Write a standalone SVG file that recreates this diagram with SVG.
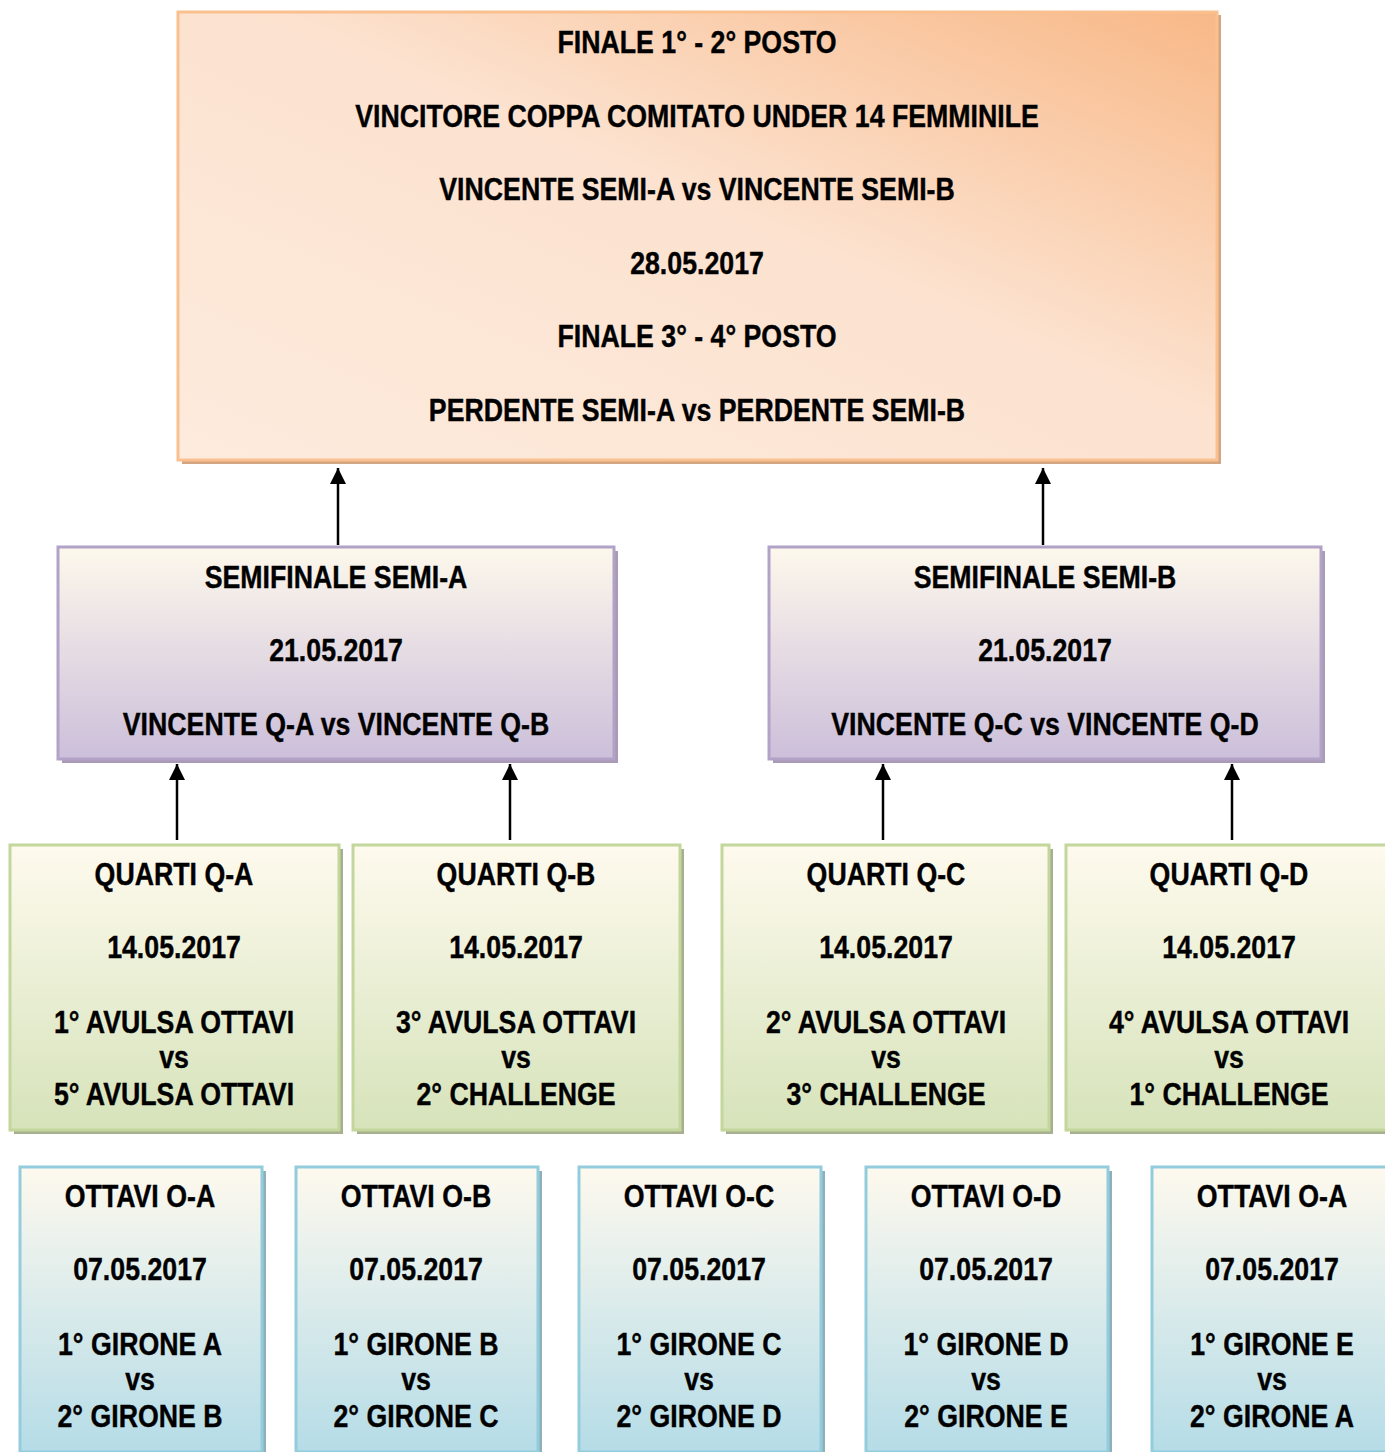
<svg xmlns="http://www.w3.org/2000/svg" width="1385" height="1452" viewBox="0 0 1385 1452">
<defs>
<linearGradient id="gTop" x1="1" y1="0" x2="0" y2="1">
<stop offset="0" stop-color="#F8B887"/>
<stop offset="0.45" stop-color="#FCE2CF"/>
<stop offset="1" stop-color="#FDEBDD"/>
</linearGradient>
<linearGradient id="gSemi" x1="0" y1="0" x2="0" y2="1">
<stop offset="0" stop-color="#FDF8EC"/>
<stop offset="1" stop-color="#CCBFDA"/>
</linearGradient>
<linearGradient id="gQ" x1="0" y1="0" x2="0" y2="1">
<stop offset="0" stop-color="#FEFAEE"/>
<stop offset="1" stop-color="#D6E3BA"/>
</linearGradient>
<linearGradient id="gO" x1="0" y1="0" x2="0" y2="1">
<stop offset="0" stop-color="#FEF9EE"/>
<stop offset="1" stop-color="#B5DCE7"/>
</linearGradient>
<marker id="ah" markerUnits="userSpaceOnUse" markerWidth="16" markerHeight="16" viewBox="0 0 16 16" refX="16" refY="8" orient="auto">
<path d="M0,0 L16,8 L0,16 Z" fill="#000"/>
</marker>
</defs>
<style>
text{font-family:"Liberation Sans",Arial,sans-serif;font-weight:bold;font-size:32px;fill:#000;text-anchor:middle;stroke:#000;stroke-width:0.4}
.top rect.b{fill:url(#gTop);stroke:#FAC090;stroke-width:3}
.top rect.s{fill:#D3A581}
.semi rect.b{fill:url(#gSemi);stroke:#B2A2C7;stroke-width:3}
.semi rect.s{fill:#A99BB5}
.q rect.b{fill:url(#gQ);stroke:#C3D69B;stroke-width:3}
.q rect.s{fill:#A6AF8E}
.o rect.b{fill:url(#gO);stroke:#93CDDD;stroke-width:3}
.o rect.s{fill:#8EB0BA}
.conn line{stroke:#000;stroke-width:2.5;marker-end:url(#ah)}
</style>
<rect width="1385" height="1452" fill="#fff"/>

<g id="finale" class="top">
<rect class="s" x="182" y="15" width="1039" height="449"/>
<rect class="b" x="178" y="12" width="1039" height="448"/>
<text transform="matrix(0.835 0 0 1 697 0)" y="53">FINALE 1° - 2° POSTO</text>
<text transform="matrix(0.835 0 0 1 697 0)" y="127">VINCITORE COPPA COMITATO UNDER 14 FEMMINILE</text>
<text transform="matrix(0.835 0 0 1 697 0)" y="200">VINCENTE SEMI-A vs VINCENTE SEMI-B</text>
<text transform="matrix(0.835 0 0 1 697 0)" y="274">28.05.2017</text>
<text transform="matrix(0.835 0 0 1 697 0)" y="347">FINALE 3° - 4° POSTO</text>
<text transform="matrix(0.835 0 0 1 697 0)" y="421">PERDENTE SEMI-A vs PERDENTE SEMI-B</text>
</g>

<g id="semi-a" class="semi">
<rect class="s" x="62" y="551" width="556" height="212"/>
<rect class="b" x="58" y="547" width="556" height="212"/>
<text transform="matrix(0.835 0 0 1 336 0)" y="588">SEMIFINALE SEMI-A</text>
<text transform="matrix(0.835 0 0 1 336 0)" y="661">21.05.2017</text>
<text transform="matrix(0.835 0 0 1 336 0)" y="735">VINCENTE Q-A vs VINCENTE Q-B</text>
</g>
<g id="semi-b" class="semi">
<rect class="s" x="773" y="551" width="552" height="212"/>
<rect class="b" x="769" y="547" width="552" height="212"/>
<text transform="matrix(0.835 0 0 1 1045 0)" y="588">SEMIFINALE SEMI-B</text>
<text transform="matrix(0.835 0 0 1 1045 0)" y="661">21.05.2017</text>
<text transform="matrix(0.835 0 0 1 1045 0)" y="735">VINCENTE Q-C vs VINCENTE Q-D</text>
</g>

<g id="q-a" class="q">
<rect class="s" x="14" y="849" width="329" height="285"/>
<rect class="b" x="10" y="845" width="329" height="285"/>
<text transform="matrix(0.835 0 0 1 174 0)" y="885">QUARTI Q-A</text>
<text transform="matrix(0.835 0 0 1 174 0)" y="958">14.05.2017</text>
<text transform="matrix(0.835 0 0 1 174 0)" y="1033">1° AVULSA OTTAVI</text>
<text transform="matrix(0.835 0 0 1 174 0)" y="1068">vs</text>
<text transform="matrix(0.835 0 0 1 174 0)" y="1105">5° AVULSA OTTAVI</text>
</g>
<g id="q-b" class="q">
<rect class="s" x="357" y="849" width="327" height="285"/>
<rect class="b" x="353" y="845" width="327" height="285"/>
<text transform="matrix(0.835 0 0 1 516 0)" y="885">QUARTI Q-B</text>
<text transform="matrix(0.835 0 0 1 516 0)" y="958">14.05.2017</text>
<text transform="matrix(0.835 0 0 1 516 0)" y="1033">3° AVULSA OTTAVI</text>
<text transform="matrix(0.835 0 0 1 516 0)" y="1068">vs</text>
<text transform="matrix(0.835 0 0 1 516 0)" y="1105">2° CHALLENGE</text>
</g>
<g id="q-c" class="q">
<rect class="s" x="726" y="849" width="327" height="285"/>
<rect class="b" x="722" y="845" width="327" height="285"/>
<text transform="matrix(0.835 0 0 1 886 0)" y="885">QUARTI Q-C</text>
<text transform="matrix(0.835 0 0 1 886 0)" y="958">14.05.2017</text>
<text transform="matrix(0.835 0 0 1 886 0)" y="1033">2° AVULSA OTTAVI</text>
<text transform="matrix(0.835 0 0 1 886 0)" y="1068">vs</text>
<text transform="matrix(0.835 0 0 1 886 0)" y="1105">3° CHALLENGE</text>
</g>
<g id="q-d" class="q">
<rect class="s" x="1070" y="849" width="329" height="285"/>
<rect class="b" x="1066" y="845" width="329" height="285"/>
<text transform="matrix(0.835 0 0 1 1229 0)" y="885">QUARTI Q-D</text>
<text transform="matrix(0.835 0 0 1 1229 0)" y="958">14.05.2017</text>
<text transform="matrix(0.835 0 0 1 1229 0)" y="1033">4° AVULSA OTTAVI</text>
<text transform="matrix(0.835 0 0 1 1229 0)" y="1068">vs</text>
<text transform="matrix(0.835 0 0 1 1229 0)" y="1105">1° CHALLENGE</text>
</g>

<g id="o-a" class="o">
<rect class="s" x="24" y="1171" width="242" height="285"/>
<rect class="b" x="20" y="1167" width="242" height="285"/>
<text transform="matrix(0.835 0 0 1 140 0)" y="1207">OTTAVI O-A</text>
<text transform="matrix(0.835 0 0 1 140 0)" y="1280">07.05.2017</text>
<text transform="matrix(0.835 0 0 1 140 0)" y="1355">1° GIRONE A</text>
<text transform="matrix(0.835 0 0 1 140 0)" y="1390">vs</text>
<text transform="matrix(0.835 0 0 1 140 0)" y="1427">2° GIRONE B</text>
</g>
<g id="o-b" class="o">
<rect class="s" x="300" y="1171" width="242" height="285"/>
<rect class="b" x="296" y="1167" width="242" height="285"/>
<text transform="matrix(0.835 0 0 1 416 0)" y="1207">OTTAVI O-B</text>
<text transform="matrix(0.835 0 0 1 416 0)" y="1280">07.05.2017</text>
<text transform="matrix(0.835 0 0 1 416 0)" y="1355">1° GIRONE B</text>
<text transform="matrix(0.835 0 0 1 416 0)" y="1390">vs</text>
<text transform="matrix(0.835 0 0 1 416 0)" y="1427">2° GIRONE C</text>
</g>
<g id="o-c" class="o">
<rect class="s" x="583" y="1171" width="242" height="285"/>
<rect class="b" x="579" y="1167" width="242" height="285"/>
<text transform="matrix(0.835 0 0 1 699 0)" y="1207">OTTAVI O-C</text>
<text transform="matrix(0.835 0 0 1 699 0)" y="1280">07.05.2017</text>
<text transform="matrix(0.835 0 0 1 699 0)" y="1355">1° GIRONE C</text>
<text transform="matrix(0.835 0 0 1 699 0)" y="1390">vs</text>
<text transform="matrix(0.835 0 0 1 699 0)" y="1427">2° GIRONE D</text>
</g>
<g id="o-d" class="o">
<rect class="s" x="870" y="1171" width="242" height="285"/>
<rect class="b" x="866" y="1167" width="242" height="285"/>
<text transform="matrix(0.835 0 0 1 986 0)" y="1207">OTTAVI O-D</text>
<text transform="matrix(0.835 0 0 1 986 0)" y="1280">07.05.2017</text>
<text transform="matrix(0.835 0 0 1 986 0)" y="1355">1° GIRONE D</text>
<text transform="matrix(0.835 0 0 1 986 0)" y="1390">vs</text>
<text transform="matrix(0.835 0 0 1 986 0)" y="1427">2° GIRONE E</text>
</g>
<g id="o-e" class="o">
<rect class="s" x="1156" y="1171" width="242" height="285"/>
<rect class="b" x="1152" y="1167" width="242" height="285"/>
<text transform="matrix(0.835 0 0 1 1272 0)" y="1207">OTTAVI O-A</text>
<text transform="matrix(0.835 0 0 1 1272 0)" y="1280">07.05.2017</text>
<text transform="matrix(0.835 0 0 1 1272 0)" y="1355">1° GIRONE E</text>
<text transform="matrix(0.835 0 0 1 1272 0)" y="1390">vs</text>
<text transform="matrix(0.835 0 0 1 1272 0)" y="1427">2° GIRONE A</text>
</g>

<g id="connectors" class="conn">
<line x1="338" y1="545" x2="338" y2="468"/>
<line x1="1043" y1="545" x2="1043" y2="468"/>
<line x1="177" y1="840" x2="177" y2="764"/>
<line x1="510" y1="840" x2="510" y2="764"/>
<line x1="883" y1="840" x2="883" y2="764"/>
<line x1="1232" y1="840" x2="1232" y2="764"/>
</g>
</svg>
